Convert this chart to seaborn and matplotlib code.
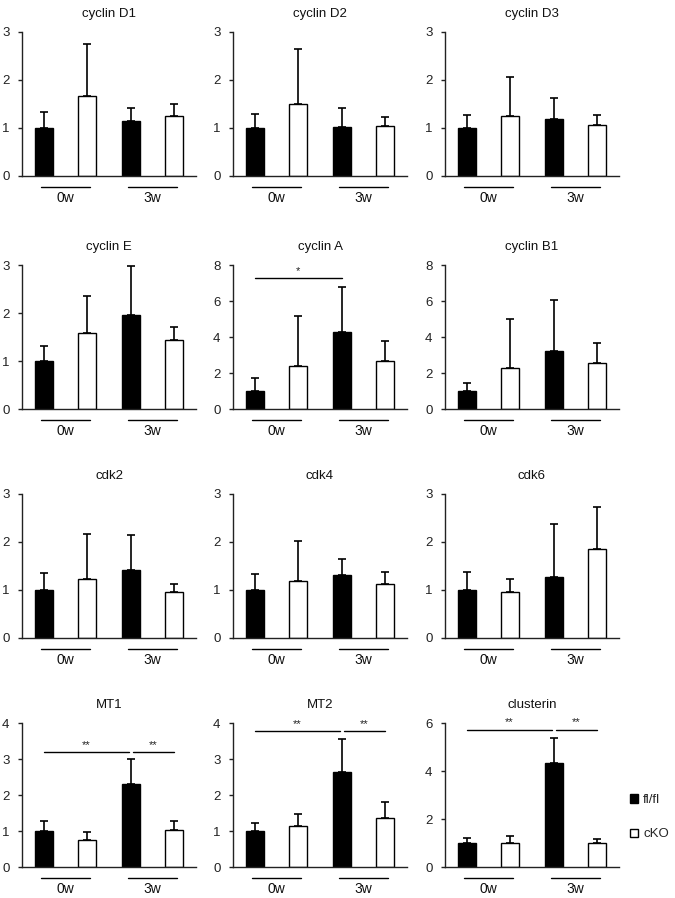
import numpy as np
import pandas as pd
import matplotlib
matplotlib.use("Agg")
import matplotlib.pyplot as plt
from matplotlib.patches import Patch
import seaborn as sns

# Panel titles, in reading order
titles = ["cyclin D1", "cyclin D2", "cyclin D3",
          "cyclin E", "cyclin A", "cyclin B1",
          "cdk2", "cdk4", "cdk6",
          "MT1", "MT2", "clusterin"]

# Mean relative expression (fl/fl 0w = 1)
fl_0w = [1.0, 1.0, 1.0, 1.0, 1.0, 1.0, 1.0, 1.0, 1.0, 1.0, 1.0, 1.0]
cko_0w = [1.66, 1.51, 1.26, 1.59, 2.40, 2.29, 1.22, 1.19, 0.95, 0.75, 1.15, 1.0]
fl_3w = [1.15, 1.03, 1.19, 1.95, 4.27, 3.21, 1.41, 1.31, 1.28, 2.30, 2.63, 4.34]
cko_3w = [1.26, 1.04, 1.07, 1.44, 2.66, 2.54, 0.95, 1.12, 1.86, 1.03, 1.36, 1.0]

# Upper error (SD)
fl_0w_sd = [0.33, 0.29, 0.27, 0.32, 0.70, 0.47, 0.35, 0.34, 0.38, 0.28, 0.21, 0.21]
cko_0w_sd = [1.10, 1.13, 0.81, 0.77, 2.74, 2.71, 0.94, 0.83, 0.27, 0.22, 0.33, 0.31]
fl_3w_sd = [0.27, 0.38, 0.44, 1.02, 2.50, 2.83, 0.73, 0.34, 1.10, 0.69, 0.92, 1.02]
cko_3w_sd = [0.23, 0.18, 0.21, 0.26, 1.13, 1.14, 0.17, 0.26, 0.87, 0.24, 0.44, 0.17]

# y axis range per panel
y_max = [3, 3, 3, 3, 8, 8, 3, 3, 3, 4, 4, 6]
y_step = [1, 1, 1, 1, 2, 2, 1, 1, 1, 1, 1, 2]

bar_labels = ["fl 0w", "cKO 0w", "fl 3w", "cKO 3w"]
bar_geno = ["fl/fl", "cKO", "fl/fl", "cKO"]
groups = ["0w", "3w"]

# significance brackets: panel index, x from, x to, y, text
sig_panel = [4, 9, 9, 10, 10, 11, 11]
sig_x0 = [0.0, 0.0, 2.05, 0.0, 2.05, 0.0, 2.05]
sig_x1 = [2.0, 1.95, 3.0, 1.95, 3.0, 1.95, 3.0]
sig_y = [7.26, 3.19, 3.19, 3.77, 3.77, 5.72, 5.72]
sig_text = ["*", "**", "**", "**", "**", "**", "**"]

sns.set_style("ticks")
plt.rcParams["font.family"] = ["Liberation Sans", "DejaVu Sans"]

fig = plt.figure(figsize=(6.75, 8.98), dpi=100)
W, H = 675.0, 898.0
lefts = [22, 233, 445]
tops = [32, 265, 494, 723]
aw, ah = 174, 144

pal = {"fl/fl": "black", "cKO": "white"}

for i, title in enumerate(titles):
    r, c = divmod(i, 3)
    ax = fig.add_axes([lefts[c] / W, 1 - (tops[r] + ah) / H, aw / W, ah / H])
    means = [fl_0w[i], cko_0w[i], fl_3w[i], cko_3w[i]]
    sds = [fl_0w_sd[i], cko_0w_sd[i], fl_3w_sd[i], cko_3w_sd[i]]
    df = pd.DataFrame({"bar": bar_labels, "value": means, "geno": bar_geno})
    sns.barplot(data=df, x="bar", y="value", hue="geno", palette=pal,
                dodge=False, width=0.42, edgecolor="black", linewidth=1.0,
                legend=False, ax=ax, zorder=2)
    ax.errorbar(np.arange(4), means, yerr=[np.zeros(4), sds], fmt="none",
                ecolor="black", elinewidth=1.2, capsize=2.6, capthick=1.2,
                zorder=1)
    ax.set_xlim(-0.5, 3.5)
    ax.set_ylim(0, y_max[i])
    ax.set_yticks(np.arange(0, y_max[i] + 0.01, y_step[i]))
    ax.set_xticks([])
    ax.set_xlabel("")
    ax.set_ylabel("")
    ax.tick_params(axis="y", length=3, width=1, pad=6, labelsize=9.5,
                   colors="#222222")
    for s in ["left", "bottom"]:
        ax.spines[s].set_linewidth(1.0)
        ax.spines[s].set_color("#222222")
    sns.despine(ax=ax)
    ax.set_title(title, fontsize=9.5, pad=11, color="#111111")

    # group underline and labels
    tr = ax.get_xaxis_transform()
    for g, name in enumerate(groups):
        cx = 2 * g + 0.5
        ax.plot([cx - 0.57, cx + 0.57], [-0.076, -0.076], color="black",
                lw=1.0, transform=tr, clip_on=False)
        ax.text(cx, -0.155, name, transform=tr, ha="center", va="center",
                fontsize=10, color="#111111")

for p, x0, x1, y, t in zip(sig_panel, sig_x0, sig_x1, sig_y, sig_text):
    ax = fig.axes[p]
    ax.plot([x0, x1], [y, y], color="black", lw=1.0, clip_on=False)
    ax.text((x0 + x1) / 2, y + y_max[p] * 0.015, t, ha="center", va="bottom",
            fontsize=8, color="#222222")

handles = [Patch(facecolor="black", edgecolor="black", label="fl/fl"),
           Patch(facecolor="white", edgecolor="black", label="cKO")]
fig.legend(handles=handles, loc="upper left",
           bbox_to_anchor=(630 / W, 1 - 794 / H), frameon=False,
           borderpad=0, borderaxespad=0,
           fontsize=9.5, handlelength=0.6, handleheight=0.6,
           labelspacing=1.7, handletextpad=0.4)

fig.savefig("out.png", dpi=100)
